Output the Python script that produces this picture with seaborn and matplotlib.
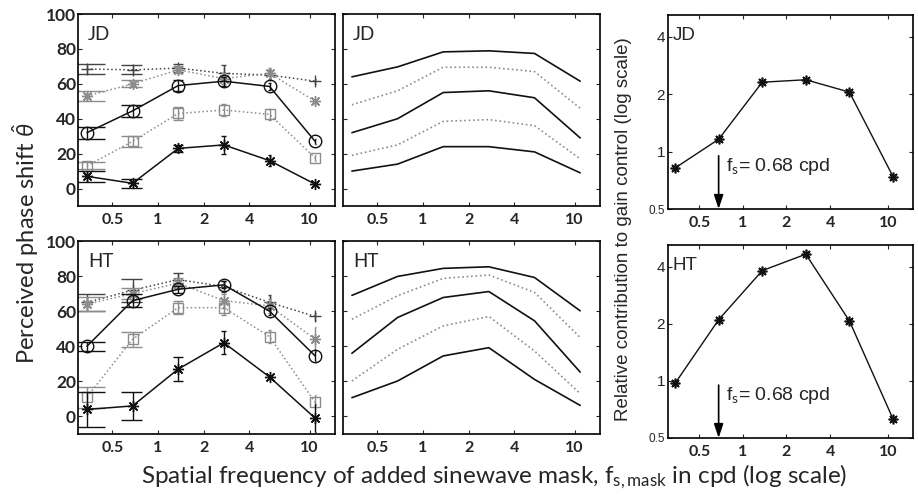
import numpy as np
import pandas as pd
import matplotlib
matplotlib.use("Agg")
import matplotlib.pyplot as plt
import seaborn as sns
from matplotlib import font_manager
from matplotlib.ticker import NullLocator

# ---------------- data ----------------
freqs = [0.34, 0.68, 1.36, 2.72, 5.44, 10.88]          # mask spatial frequency (cpd)
xtick_vals = [0.5, 1, 2, 4, 10]
xtick_labels = ["0.5", "1", "2", "4", "10"]
phase_ticks = [0, 20, 40, 60, 80, 100]
phase_tick_labels = ["0", "20", "40", "60", "80", "100"]
gain_ticks = [0.5, 1, 2, 4]
gain_tick_labels = ["0.5", "1", "2", "4"]
subjects = ["JD", "HT"]
fs_value = 0.68
fs_label = "f$_\\mathrm{s}$= 0.68 cpd"

# measured phase shifts (deg) and error bars, JD
jd_plus = [68.5, 68, 69, 66, 65, 61.5]
jd_plus_err = [3, 2.5, 2.5, 4.5, 3, 1.5]
jd_star_grey = [53, 60, 68, 63, 66, 50]
jd_star_grey_err = [3, 2, 2, 3, 3, 1.5]
jd_circle = [32, 44.5, 59, 61.5, 58.5, 27]
jd_circle_err = [3.5, 3.3, 3, 2.5, 2, 1.5]
jd_square = [13, 27, 43, 45, 42.5, 17.5]
jd_square_err = [2, 3.2, 3.5, 3.2, 3, 1.5]
jd_star = [7, 3, 23, 25, 16, 2.5]
jd_star_err = [3.2, 2.6, 2, 5.3, 3, 1]

# measured phase shifts (deg) and error bars, HT
ht_plus = [65, 72, 78, 74, 65, 57]
ht_plus_err = [5, 6.5, 3.8, 3, 4, 2]
ht_star_grey = [64, 70, 76, 66, 63, 44]
ht_star_grey_err = [4, 3, 3, 4, 4, 7]
ht_circle = [40, 66, 72.5, 75, 60, 34.5]
ht_circle_err = [2.6, 3.8, 2, 2, 2, 3]
ht_square = [11, 44, 62, 62, 45.5, 8]
ht_square_err = [6, 4.4, 3.8, 4, 3.5, 4]
ht_star = [4, 6, 27, 42, 22.5, -1]
ht_star_err = [10, 8, 7, 6.6, 1, 8]

# model predictions (deg), JD
jd_model_1 = [64, 69.7, 78.3, 78.9, 77.4, 61.5]
jd_model_2 = [48, 56, 69.5, 69.5, 67, 46]
jd_model_3 = [32, 40, 55, 56, 52, 29]
jd_model_4 = [19, 25, 38.5, 39.5, 36, 17]
jd_model_5 = [10, 14, 24, 24, 21, 9]

# model predictions (deg), HT
ht_model_1 = [69, 79.8, 84.4, 85.3, 79.2, 60.2]
ht_model_2 = [55.4, 68.8, 78.7, 80.6, 70.7, 45]
ht_model_3 = [36, 56.4, 67.8, 71.2, 54.5, 25.3]
ht_model_4 = [20.2, 38.3, 51.6, 57, 37.3, 13]
ht_model_5 = [10.7, 20.2, 34.5, 39.2, 21.1, 6.3]

# relative contribution to gain control
jd_gain = [0.82, 1.16, 2.31, 2.38, 2.05, 0.74]
ht_gain = [0.97, 2.10, 3.81, 4.65, 2.07, 0.63]

# ---------------- style ----------------
sns.set_theme(style="ticks")
available = {f.name for f in font_manager.fontManager.ttflist}


def pick(*names):
    for n in names:
        if n in available:
            return n
    return "DejaVu Sans"


main_font = pick("Myriad Pro", "Lato", "Open Sans", "Noto Sans")
arial_font = pick("Liberation Sans", "Arial", "DejaVu Sans")
plt.rcParams["font.family"] = [main_font, "DejaVu Sans"]
plt.rcParams["mathtext.fontset"] = "custom"
plt.rcParams["mathtext.rm"] = main_font
plt.rcParams["mathtext.it"] = main_font + ":italic"
plt.rcParams["mathtext.bf"] = main_font + ":bold"
plt.rcParams["axes.linewidth"] = 1.2
plt.rcParams["axes.edgecolor"] = "black"

BLACK = "#111111"
GREY = "#8c8c8c"
DARK = "#444444"
ASTER = (8, 2, 0)
series_style = [
    dict(marker="+", color=DARK, ls=":", ms=9, mfc=DARK),
    dict(marker=ASTER, color=GREY, ls=":", ms=8, mfc=GREY),
    dict(marker="o", color=BLACK, ls="-", ms=9, mfc="none"),
    dict(marker="s", color=GREY, ls=":", ms=7, mfc="none"),
    dict(marker=ASTER, color=BLACK, ls="-", ms=8, mfc=BLACK),
]
model_style = [
    dict(color=BLACK, ls="-"),
    dict(color=GREY, ls=":"),
    dict(color=BLACK, ls="-"),
    dict(color=GREY, ls=":"),
    dict(color=BLACK, ls="-"),
]
cap_halfwidth = 0.11  # data units, as MATLAB errorbar caps

data_sets = {
    "JD": [(jd_plus, jd_plus_err), (jd_star_grey, jd_star_grey_err), (jd_circle, jd_circle_err),
           (jd_square, jd_square_err), (jd_star, jd_star_err)],
    "HT": [(ht_plus, ht_plus_err), (ht_star_grey, ht_star_grey_err), (ht_circle, ht_circle_err),
           (ht_square, ht_square_err), (ht_star, ht_star_err)],
}
model_sets = {
    "JD": [jd_model_1, jd_model_2, jd_model_3, jd_model_4, jd_model_5],
    "HT": [ht_model_1, ht_model_2, ht_model_3, ht_model_4, ht_model_5],
}
gain_sets = {"JD": jd_gain, "HT": ht_gain}

W, H = 918, 497
fig = plt.figure(figsize=(W / 100, H / 100), dpi=100)


def rect(x0, y0, x1, y1):
    return [x0 / W, 1 - y1 / H, (x1 - x0) / W, (y1 - y0) / H]


rows_y = {"JD": (14, 206), "HT": (241, 434)}
rows_y_right = {"JD": (15, 209), "HT": (245, 438)}


def style_log_x(ax, xmin, xmax):
    ax.set_xscale("log")
    ax.set_xlim(xmin, xmax)
    ax.set_xticks(xtick_vals)
    ax.set_xticklabels(xtick_labels, fontsize=11.5, fontweight="bold")
    ax.xaxis.set_minor_locator(NullLocator())
    ax.tick_params(axis="x", direction="in", length=3, top=True, pad=5, width=0.8)
    ax.tick_params(axis="y", direction="in", length=3, right=True, pad=1.5, width=0.8)
    for s in ax.spines.values():
        s.set_linewidth(1.2)
        s.set_color("black")


for subj in subjects:
    y0, y1 = rows_y[subj]
    # ---- left: data ----
    ax = fig.add_axes(rect(78, y0, 335, y1))
    x_arr = np.array(freqs)
    for (vals, errs), st in zip(data_sets[subj], series_style):
        v = np.array(vals)
        e = np.array(errs)
        ax.vlines(x_arr, v - e, v + e, color=st["color"], lw=1.0)
        ax.hlines(v - e, x_arr - cap_halfwidth, x_arr + cap_halfwidth, color=st["color"], lw=1.0)
        ax.hlines(v + e, x_arr - cap_halfwidth, x_arr + cap_halfwidth, color=st["color"], lw=1.0)
        df = pd.DataFrame({"f": freqs, "phase": vals})
        sns.lineplot(data=df, x="f", y="phase", ax=ax, errorbar=None, color=st["color"],
                     linestyle=st["ls"], lw=1.1, marker=st["marker"], markersize=st["ms"],
                     markeredgecolor=st["color"], markerfacecolor=st["mfc"], markeredgewidth=1.0)
    style_log_x(ax, 0.297, 14.7)
    ax.set_ylim(-10, 100)
    ax.set_yticks(phase_ticks)
    ax.set_yticklabels(phase_tick_labels, fontsize=12.5, fontweight="bold")
    ax.set_xlabel("")
    ax.set_ylabel("")
    ax.text(0.04, 0.94, subj, transform=ax.transAxes, ha="left", va="top", fontsize=13.5)

    # ---- middle: model ----
    ax = fig.add_axes(rect(343, y0, 600, y1))
    for vals, st in zip(model_sets[subj], model_style):
        df = pd.DataFrame({"f": freqs, "phase": vals})
        sns.lineplot(data=df, x="f", y="phase", ax=ax, errorbar=None, color=st["color"],
                     linestyle=st["ls"], lw=1.2)
    style_log_x(ax, 0.297, 14.7)
    ax.set_ylim(-10, 100)
    ax.set_yticks(phase_ticks)
    ax.set_yticklabels([])
    ax.set_xlabel("")
    ax.set_ylabel("")
    ax.text(0.04, 0.94, subj, transform=ax.transAxes, ha="left", va="top", fontsize=13.5)

    # ---- right: gain ----
    ry0, ry1 = rows_y_right[subj]
    ax = fig.add_axes(rect(668, ry0, 913, ry1))
    df = pd.DataFrame({"f": freqs, "gain": gain_sets[subj]})
    sns.lineplot(data=df, x="f", y="gain", ax=ax, errorbar=None, color=BLACK, lw=1.0,
                 marker=ASTER, markersize=7, markeredgecolor=BLACK, markerfacecolor=BLACK,
                 markeredgewidth=1.2)
    style_log_x(ax, 0.304, 14.95)
    ax.set_yscale("log")
    ax.set_ylim(0.5, 5.2)
    ax.set_yticks(gain_ticks)
    ax.set_yticklabels(gain_tick_labels, fontsize=11, family=arial_font)
    ax.yaxis.set_minor_locator(NullLocator())
    ax.get_yticklabels()[0].set_fontsize(8.5)
    ax.tick_params(axis="y", pad=2)
    ax.set_xlabel("")
    ax.set_ylabel("")
    ax.annotate("", xy=(fs_value, 0.5), xytext=(fs_value, 0.95),
                arrowprops=dict(arrowstyle="-|>,head_length=0.6,head_width=0.2", color="black",
                                lw=1.2, shrinkA=0, shrinkB=0, mutation_scale=14))
    ax.annotate(fs_label, xy=(fs_value, 0.84), xytext=(5, 0), textcoords="offset points",
                ha="left", va="center", fontsize=14, family=arial_font)
    ax.text(0.02, 0.94, subj, transform=ax.transAxes, ha="left", va="top", fontsize=13.5,
            family=arial_font)

# shared labels
fig.text(26 / W, 1 - 243 / H, "Perceived phase shift $\\hat{\\theta}$", rotation=90,
         ha="center", va="center", fontsize=17)
fig.text(623 / W, 1 - 229 / H, "Relative contribution to gain control (log scale)",
         rotation=90, ha="center", va="center", fontsize=13.5, family=arial_font)
fig.text(494 / W, 1 - 477 / H,
         "Spatial frequency of added sinewave mask, f$_{\\mathrm{s,mask}}$ in cpd (log scale)",
         ha="center", va="center", fontsize=17.5)

fig.savefig("out.png", dpi=100, facecolor="white")
